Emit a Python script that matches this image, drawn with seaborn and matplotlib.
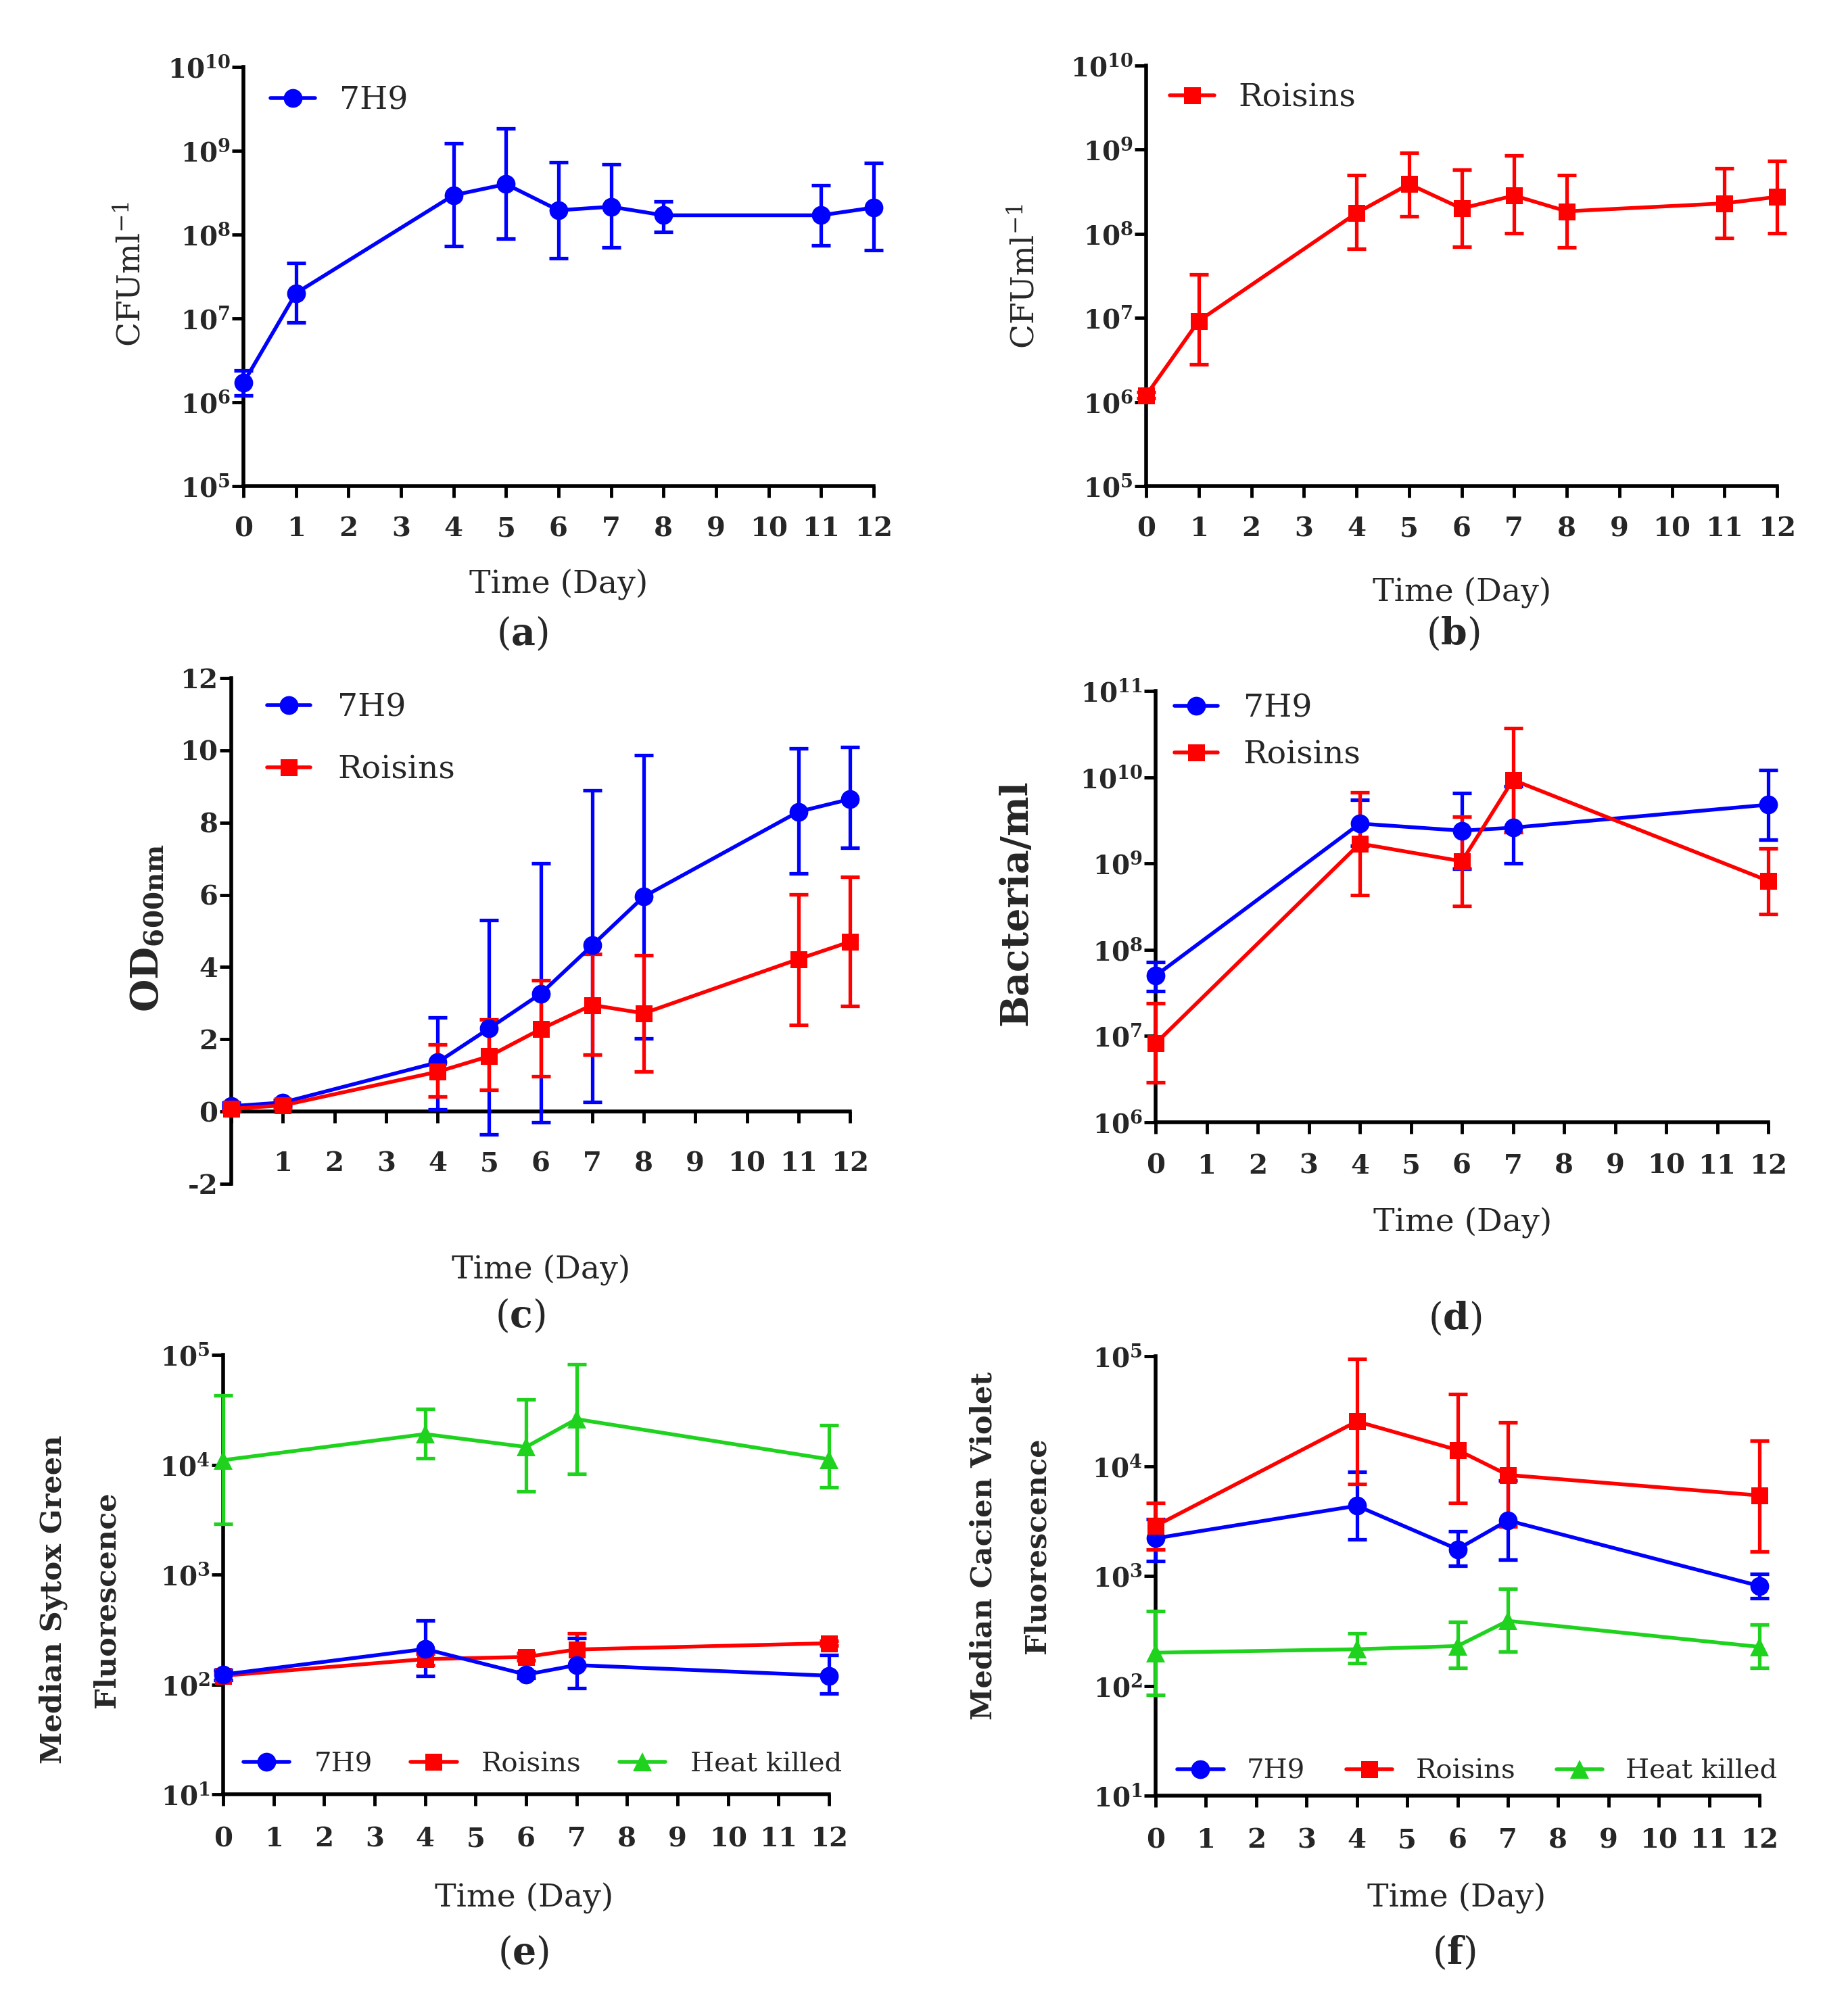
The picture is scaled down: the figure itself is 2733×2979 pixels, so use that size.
import numpy as np
import pandas as pd
import matplotlib
matplotlib.use("Agg")
import matplotlib.pyplot as plt
from matplotlib.ticker import NullLocator
import seaborn as sns

# ---------------- data ----------------
days_ac = [0, 1, 4, 5, 6, 7, 8, 11, 12]
days_def = [0, 4, 6, 7, 12]

# (a) CFU/ml 7H9
cfu_7h9 = [1.7e6, 2.0e7, 2.95e8, 4.0e8, 1.95e8, 2.15e8, 1.7e8, 1.7e8, 2.1e8]
cfu_7h9_lo = [1.2e6, 9.0e6, 7.3e7, 9.0e7, 5.2e7, 7.0e7, 1.08e8, 7.4e7, 6.5e7]
cfu_7h9_hi = [2.4e6, 4.6e7, 1.23e9, 1.85e9, 7.3e8, 6.9e8, 2.5e8, 3.85e8, 7.1e8]

# (b) CFU/ml Roisins
cfu_rois = [1.2e6, 9.2e6, 1.76e8, 3.9e8, 2.0e8, 2.85e8, 1.85e8, 2.3e8, 2.75e8]
cfu_rois_lo = [1.1e6, 2.8e6, 6.6e7, 1.6e8, 7.0e7, 1.02e8, 6.9e7, 8.9e7, 1.02e8]
cfu_rois_hi = [1.3e6, 3.3e7, 5.0e8, 9.2e8, 5.8e8, 8.6e8, 5.0e8, 6.0e8, 7.4e8]

# (c) OD600
od_7h9 = [0.15, 0.25, 1.36, 2.3, 3.26, 4.6, 5.95, 8.3, 8.65]
od_7h9_lo = [0.05, 0.18, 0.06, -0.63, -0.3, 0.27, 2.02, 6.6, 7.3]
od_7h9_hi = [0.25, 0.32, 2.6, 5.3, 6.87, 8.9, 9.87, 10.05, 10.1]
od_rois = [0.08, 0.17, 1.1, 1.53, 2.28, 2.95, 2.72, 4.22, 4.7]
od_rois_lo = [0.0, 0.1, 0.42, 0.6, 0.98, 1.57, 1.1, 2.4, 2.93]
od_rois_hi = [0.16, 0.24, 1.85, 2.55, 3.63, 4.37, 4.32, 6.02, 6.5]

# (d) Bacteria/ml
bac_7h9 = [5.0e7, 2.9e9, 2.4e9, 2.6e9, 4.8e9]
bac_7h9_lo = [3.3e7, 1.6e9, 8.7e8, 1.0e9, 1.9e9]
bac_7h9_hi = [7.2e7, 5.5e9, 6.6e9, 7.9e9, 1.2e10]
bac_rois = [8.2e6, 1.7e9, 1.06e9, 9.3e9, 6.3e8]
bac_rois_lo = [2.9e6, 4.3e8, 3.2e8, 2.3e9, 2.6e8]
bac_rois_hi = [2.4e7, 6.7e9, 3.5e9, 3.7e10, 1.5e9]

# (e) Median Sytox Green fluorescence
syt_7h9 = [123, 210, 123, 150, 120]
syt_7h9_lo = [110, 120, 115, 93, 83]
syt_7h9_hi = [135, 380, 132, 265, 184]
syt_rois = [120, 170, 178, 208, 237]
syt_rois_lo = [110, 150, 165, 145, 225]
syt_rois_hi = [132, 190, 192, 290, 250]
syt_heat = [1.1e4, 1.9e4, 1.45e4, 2.6e4, 1.12e4]
syt_heat_lo = [2.9e3, 1.15e4, 5.7e3, 8.3e3, 6.2e3]
syt_heat_hi = [4.3e4, 3.2e4, 3.9e4, 8.2e4, 2.3e4]

# (f) Median Cacien Violet fluorescence
cac_7h9 = [2.2e3, 4.35e3, 1.75e3, 3.2e3, 8.1e2]
cac_7h9_lo = [1.37e3, 2.15e3, 1.23e3, 1.4e3, 6.3e2]
cac_7h9_hi = [3.3e3, 8.9e3, 2.55e3, 7.4e3, 1.05e3]
cac_rois = [2.85e3, 2.55e4, 1.4e4, 8.3e3, 5.4e3]
cac_rois_lo = [1.74e3, 6.9e3, 4.6e3, 2.8e3, 1.67e3]
cac_rois_hi = [4.6e3, 9.5e4, 4.5e4, 2.5e4, 1.7e4]
cac_heat = [200, 215, 230, 390, 226]
cac_heat_lo = [83, 160, 145, 205, 145]
cac_heat_hi = [480, 300, 380, 760, 360]

series_names = ["7H9", "Roisins", "Heat killed"]
colors = {"7H9": "#0000FF", "Roisins": "#FF0000", "Heat killed": "#1ED21E"}
markers = {"7H9": "o", "Roisins": "s", "Heat killed": "^"}
msizes = {"7H9": 20, "Roisins": 18, "Heat killed": 20}

# ---------------- style ----------------
sns.set_style("ticks")
plt.rcParams["font.family"] = ["DejaVu Serif"]
plt.rcParams["mathtext.fontset"] = "dejavuserif"

W, H = 2733, 2979
fig = plt.figure(figsize=(W / 100, H / 100), dpi=100)


def add_ax(left, top, right, bottom):
    return fig.add_axes([left / W, 1 - bottom / H, (right - left) / W, (bottom - top) / H])


def draw(ax, days, name, vals, lo, hi):
    c = colors[name]
    v = np.array(vals)
    yerr = [v - np.array(lo), np.array(hi) - v]
    ax.errorbar(days, vals, yerr=yerr, fmt="none", ecolor=c, elinewidth=3.8,
                capsize=10, capthick=3.8, zorder=3, clip_on=False)
    df = pd.DataFrame({"day": days, "val": vals})
    sns.lineplot(data=df, x="day", y="val", ax=ax, color=c, lw=4.0,
                 marker=markers[name], markersize=msizes[name], markeredgewidth=0,
                 label=name, estimator=None, zorder=4, clip_on=False)


def style_ax(ax, xpad):
    sns.despine(ax=ax)
    for s in ["left", "bottom"]:
        ax.spines[s].set_linewidth(4)
        ax.spines[s].set_color("black")
    ax.tick_params(axis="both", which="major", direction="out", length=12, width=3.5,
                   color="black")
    ax.tick_params(axis="x", pad=xpad)
    ax.tick_params(axis="y", pad=2)
    ax.set_xlim(0, 12)
    ax.set_xticks(range(13))
    ax.set_xticklabels([str(i) for i in range(13)], fontsize=29, fontweight="bold")
    ax.set_xlabel("")
    ax.set_ylabel("")
    ax.grid(False)


def log_y(ax, lo_exp, hi_exp):
    ax.set_yscale("log")
    ax.set_ylim(10.0 ** lo_exp, 10.0 ** hi_exp)
    ticks = [10.0 ** e for e in range(lo_exp, hi_exp + 1)]
    ax.set_yticks(ticks)
    ax.set_yticklabels([r"$\mathbf{10^{%d}}$" % e for e in range(lo_exp, hi_exp + 1)],
                       fontsize=28)
    ax.yaxis.set_minor_locator(NullLocator())


def ftext(x, y, s, **kw):
    fig.text(x / W, 1 - y / H, s, ha="center", va="center", **kw)


def leg(ax, x, y, fs, ncol=1, hl=1.4, htp=0.8, cs=1.4, ls=0.5):
    ax.legend(loc="center left", bbox_to_anchor=(x, y), frameon=False, fontsize=fs,
              ncol=ncol, borderpad=0, borderaxespad=0, handlelength=hl,
              handletextpad=htp, columnspacing=cs, labelspacing=ls)


# ---------------- (a) ----------------
ax = add_ax(360, 99, 1292, 719)
draw(ax, days_ac, "7H9", cfu_7h9, cfu_7h9_lo, cfu_7h9_hi)
style_ax(ax, 20)
log_y(ax, 5, 10)
leg(ax, 0.043, 0.919, 34, hl=1.4, htp=0.75)
ftext(195, 405, r"CFUml$^{\mathregular{-1}}$", rotation=90, fontsize=34)
ftext(826, 865, "Time (Day)", fontsize=34)
ftext(772, 938, r"($\mathbf{a}$)", fontsize=40)

# ---------------- (b) ----------------
ax = add_ax(1695, 97, 2628, 719)
draw(ax, days_ac, "Roisins", cfu_rois, cfu_rois_lo, cfu_rois_hi)
style_ax(ax, 20)
log_y(ax, 5, 10)
leg(ax, 0.0375, 0.923, 34, hl=1.4, htp=0.75)
ftext(1517, 408, r"CFUml$^{\mathregular{-1}}$", rotation=90, fontsize=34)
ftext(2162, 877, "Time (Day)", fontsize=34)
ftext(2149, 938, r"($\mathbf{b}$)", fontsize=40)

# ---------------- (c) ----------------
ax = add_ax(342, 1003, 1257, 1751)
draw(ax, days_ac, "7H9", od_7h9, od_7h9_lo, od_7h9_hi)
draw(ax, days_ac, "Roisins", od_rois, od_rois_lo, od_rois_hi)
style_ax(ax, 30)
ax.spines["bottom"].set_position(("data", 0))
ax.set_xticklabels([""] + [str(i) for i in range(1, 13)], fontsize=29, fontweight="bold")
ax.set_ylim(-2, 12)
ax.set_yticks(range(-2, 13, 2))
ax.set_yticklabels([str(v) for v in range(-2, 13, 2)], fontsize=29, fontweight="bold")
leg(ax, 0.058, 0.88, 34, hl=1.35, htp=0.85, ls=1.0)
ftext(219, 1373, r"$\mathbf{OD}_{\mathbf{600nm}}$", rotation=90, fontsize=40)
ftext(800, 1879, "Time (Day)", fontsize=34)
ftext(769, 1947, r"($\mathbf{c}$)", fontsize=40)

# ---------------- (d) ----------------
ax = add_ax(1709, 1022, 2615, 1660)
draw(ax, days_def, "7H9", bac_7h9, bac_7h9_lo, bac_7h9_hi)
draw(ax, days_def, "Roisins", bac_rois, bac_rois_lo, bac_rois_hi)
style_ax(ax, 21)
log_y(ax, 6, 11)
leg(ax, 0.031, 0.906, 34, hl=1.35, htp=0.8, ls=0.5)
ftext(1503, 1335, "Bacteria/ml", rotation=90, fontsize=40, fontweight="bold")
ftext(2163, 1809, "Time (Day)", fontsize=34)
ftext(2152, 1951, r"($\mathbf{d}$)", fontsize=40)

# ---------------- (e) ----------------
ax = add_ax(330, 2004, 1226, 2654)
draw(ax, days_def, "Roisins", syt_rois, syt_rois_lo, syt_rois_hi)
draw(ax, days_def, "7H9", syt_7h9, syt_7h9_lo, syt_7h9_hi)
draw(ax, days_def, "Heat killed", syt_heat, syt_heat_lo, syt_heat_hi)
style_ax(ax, 22)
log_y(ax, 1, 5)
h, l = ax.get_legend_handles_labels()
order = [l.index(n) for n in series_names]
ax.legend([h[i] for i in order], [l[i] for i in order], loc="center left",
          bbox_to_anchor=(0.033, 0.068), frameon=False, fontsize=29, ncol=3,
          borderpad=0, borderaxespad=0, handlelength=1.7, handletextpad=0.9,
          columnspacing=1.4)
ftext(79, 2366, "Median Sytox Green", rotation=90, fontsize=31, fontweight="bold")
ftext(158, 2366, "Fluorescence", rotation=90, fontsize=31, fontweight="bold")
ftext(775, 2808, "Time (Day)", fontsize=34)
ftext(774, 2889, r"($\mathbf{e}$)", fontsize=40)

# ---------------- (f) ----------------
ax = add_ax(1709, 2006, 2602, 2656)
draw(ax, days_def, "7H9", cac_7h9, cac_7h9_lo, cac_7h9_hi)
draw(ax, days_def, "Roisins", cac_rois, cac_rois_lo, cac_rois_hi)
draw(ax, days_def, "Heat killed", cac_heat, cac_heat_lo, cac_heat_hi)
style_ax(ax, 22)
log_y(ax, 1, 5)
ax.legend(loc="center left", bbox_to_anchor=(0.036, 0.055), frameon=False, fontsize=29,
          ncol=3, borderpad=0, borderaxespad=0, handlelength=1.7, handletextpad=0.85,
          columnspacing=1.5)
ftext(1455, 2286, "Median Cacien Violet", rotation=90, fontsize=31, fontweight="bold")
ftext(1533, 2286, "Fluorescence", rotation=90, fontsize=31, fontweight="bold")
ftext(2154, 2808, "Time (Day)", fontsize=34)
ftext(2150, 2889, r"($\mathbf{f}$)", fontsize=40)

fig.savefig("out.png", dpi=100, facecolor="white")
